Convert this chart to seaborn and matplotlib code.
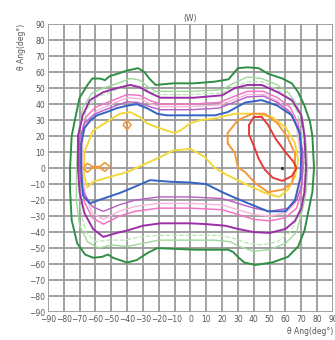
import numpy as np
import pandas as pd
import matplotlib
matplotlib.use("Agg")
import matplotlib.pyplot as plt
import seaborn as sns

# contour outlines (theta, phi) in degrees
green_dark = [(-76, 0), (-75, 20), (-73, 30), (-70, 44), (-65, 52), (-62, 56), (-57, 56), (-54, 55),
              (-51, 57.5), (-46, 59), (-40, 61), (-33, 62.5), (-29, 60), (-26, 56), (-22, 52), (-11, 53),
              (2, 53), (15, 54), (24, 55.5), (27, 59), (30, 62.5), (36, 63), (43, 62.5), (49, 59),
              (58, 56), (64, 53), (68, 47.5), (72, 39), (75.5, 29), (77, 20), (78, 0), (77, -15),
              (75.5, -22), (72, -39), (68, -49), (61.5, -55.5), (51.5, -59), (41, -60.5), (34, -59),
              (30, -55.5), (27, -52.5), (24, -51), (13.5, -51), (3, -51), (-8.5, -50.5), (-21, -50),
              (-27, -53), (-34, -57.5), (-40, -59), (-49, -56), (-52, -54), (-56, -55.5), (-61.5, -56),
              (-66.5, -54), (-71.5, -47), (-75, -32.5), (-76, -14), (-76, 0)]
green_light = [(-72, 0), (-71, 20), (-68, 38), (-62, 47), (-55, 50), (-46, 53), (-38, 56), (-32, 55),
               (-27, 51), (-22, 48), (0, 48), (20, 49), (27, 53), (36, 57), (45, 56), (55, 52),
               (62, 47), (67, 40), (71, 30), (73, 15), (74, 0), (73, -15), (71, -25), (67, -40),
               (60, -47), (50, -51), (40, -52), (31, -49), (25, -46), (15, -45), (0, -45), (-20, -45),
               (-30, -47), (-40, -49), (-50, -48), (-58, -50), (-65, -46), (-70, -36), (-72, -20), (-72, 0)]
green_dash = [(-70, 0), (-69, 20), (-66, 36), (-60, 44), (-52, 47), (-44, 50), (-37, 52), (-31, 51),
              (-26, 48), (-20, 46), (0, 46), (20, 47), (28, 51), (36, 54), (46, 54), (55, 49),
              (62, 44), (67, 36), (70, 25), (72, 10), (72, -5), (71, -18), (68, -30), (63, -40),
              (55, -46), (45, -48), (36, -47), (28, -44), (18, -42), (0, -42), (-20, -42),
              (-32, -43), (-42, -45), (-52, -45), (-60, -46), (-66, -40), (-69, -28), (-70, -12), (-70, 0)]
purple = [(-71, 0), (-71, 20), (-68, 33), (-63.5, 42.5), (-55, 47.5), (-46.5, 50), (-38, 52), (-32, 50.5),
          (-25.5, 47), (-19, 44), (2, 44), (20, 45.5), (28, 50), (36, 52), (45, 52), (55, 47.5),
          (64, 42.5), (70, 33), (72, 20), (73, 0), (72, -15), (70, -25), (66, -33), (60, -38),
          (50, -40.5), (40, -40), (30, -38), (22, -36), (10, -35), (0, -34.5), (-19, -34.5),
          (-30, -36), (-40, -39), (-46.5, -40.5), (-55, -43), (-61.5, -38), (-67, -28), (-70, -15), (-71, 0)]
pink = [(-69, 0), (-69, 20), (-66, 32), (-60, 38), (-50, 42), (-40, 46), (-32, 45.5), (-25, 42),
        (-18, 40), (0, 40), (18, 41), (28, 45), (36, 48), (46, 48), (55, 44), (63, 38), (68, 28),
        (70, 15), (71, 0), (70, -15), (67, -25), (60, -31), (50, -33), (40, -32), (30, -29),
        (20, -26), (0, -25), (-20, -25), (-35, -27), (-45, -30), (-55, -35), (-62, -31), (-67, -21),
        (-69, -5), (-69, 0)]
pink_light = [(-68, 0), (-68, 20), (-65, 30), (-59, 36), (-50, 40), (-40, 44), (-32, 43.5), (-25, 40),
              (-18, 38.5), (0, 38.5), (18, 39.5), (28, 43), (36, 46), (46, 46), (55, 42), (62, 36),
              (67, 26), (69, 12), (70, 0), (69, -12), (66, -22), (60, -28), (50, -30), (40, -29),
              (30, -26), (20, -23), (0, -22), (-20, -22), (-35, -24), (-45, -27), (-55, -32),
              (-62, -28), (-66, -18), (-68, -5), (-68, 0)]
violet = [(-70, 0), (-70, 18), (-67, 28), (-60, 34), (-50, 38), (-40, 41.5), (-33, 41), (-26, 38.5),
          (-19, 36.5), (0, 36.5), (18, 37.5), (27, 41), (36, 44.5), (46, 45), (55, 41), (63, 35),
          (68, 25), (71, 10), (71, 0), (70, -12), (67, -20), (62, -25), (50, -27), (40, -25),
          (30, -22), (20, -19), (0, -18), (-20, -18), (-35, -20), (-45, -23), (-55, -27),
          (-62, -24), (-67, -16), (-70, -5), (-70, 0)]
blue = [(-69, 0), (-69, 15), (-67, 25), (-63, 30), (-59, 33), (-53, 35), (-46.5, 37.5), (-40, 39),
        (-34, 40), (-27.5, 37.5), (-21, 34), (-15, 33), (2, 33), (15.5, 33), (23.5, 35), (34.5, 41),
        (45, 42.5), (55, 39), (64, 33), (69, 22), (70, 10), (69.5, -5.5), (66, -20), (60, -27),
        (49, -27), (39, -23), (28, -18.5), (20, -15), (10, -10), (0, -9), (-13, -8.5), (-25.5, -7.5),
        (-36, -12), (-44.5, -15.5), (-55, -19), (-63.5, -22), (-68, -17), (-69, 0)]
yellow = [(-67, -5), (-67, 10), (-61.5, 23.5), (-51, 30), (-44.5, 34), (-38, 35), (-32, 32), (-27.5, 28),
          (-21, 25.5), (-15, 23.5), (-10, 22), (-6.5, 23.5), (0, 28), (6, 30), (15, 31), (28, 34),
          (41, 34), (51.5, 32), (60, 25.5), (66, 15.5), (68, 5), (66, -5.5), (61.5, -13.5), (56, -18),
          (47, -15.5), (36, -10.5), (23.5, -4.5), (15.5, 0), (9, 7), (0, 12), (-11, 11), (-19, 7),
          (-30, 2), (-40, -2.5), (-51, -5.5), (-61.5, -8.5), (-65, -12), (-67, -5)]
orange = [(23.5, 15.5), (23.5, 22), (30, 30), (39, 34), (47, 34), (55, 28), (61.5, 19), (66, 9),
          (66, -1), (64, -9.5), (58, -13.5), (49, -15), (41, -9.5), (34.5, -2.5), (30, 0.5),
          (28, 9.5), (23.5, 15.5)]
orange_a = [(-40, 30), (-37.5, 27), (-40, 24), (-42.5, 27), (-40, 30)]
orange_b = [(-68, 0), (-65, 3), (-62, 1), (-57, 1), (-54, 3.5), (-51, 1), (-54, -2), (-57, 0),
            (-62, 0), (-65, -2.5), (-68, 0)]
red = [(37, 27), (40, 32), (45, 32), (49, 27), (54, 18), (60, 10), (65, 4), (67, 0), (64, -5),
       (58, -8), (52, -6), (47, -1), (43, 6), (40, 14), (37, 21), (37, 27)]
peak = [(58, 0)]

ticks = list(range(-90, 100, 10))

contours = [
    (green_dark, "#2f8f45", 1.4, "-"),
    (green_dash, "#b8e6b0", 0.9, "--"),
    (green_light, "#9fd89a", 1.0, "-"),
    (purple, "#9a2fa8", 1.4, "-"),
    (pink, "#f075c4", 1.1, "-"),
    (pink_light, "#f8b4dc", 1.0, "-"),
    (violet, "#b85cc8", 1.0, "-"),
    (blue, "#3562c4", 1.4, "-"),
    (yellow, "#f4d83a", 1.4, "-"),
    (orange, "#f5983c", 1.4, "-"),
    (orange_a, "#f5983c", 1.2, "-"),
    (orange_b, "#f5983c", 1.2, "-"),
    (red, "#e53a3c", 1.4, "-"),
]

sns.set_theme(style="white")
plt.rcParams['font.family'] = ['DejaVu Sans']

fig = plt.figure(figsize=(3.35, 3.4), dpi=100)
ax = fig.add_axes([0.143, 0.082, 0.851, 0.847])

for pts, col, lw, ls in contours:
    df = pd.DataFrame(pts, columns=["theta", "phi"])
    sns.lineplot(data=df, x="theta", y="phi", sort=False, estimator=None,
                 color=col, linewidth=lw, linestyle=ls, ax=ax)

pk = pd.DataFrame(peak, columns=["theta", "phi"])
sns.scatterplot(data=pk, x="theta", y="phi", color="#333333", s=6, linewidth=0, ax=ax, zorder=5)

ax.set_xlim(-90, 90)
ax.set_ylim(-90, 90)
ax.set_xticks(ticks)
ax.set_yticks(ticks)
ax.grid(True, color="#999999", linewidth=1.3)
ax.set_axisbelow(True)
for s in ax.spines.values():
    s.set_visible(False)
ax.tick_params(axis="both", labelsize=5.5, labelcolor="#555555", length=0, pad=2)

ax.set_title("(W)", fontsize=5.5, color="#555555", pad=2)
ax.set_xlabel("θ Ang(deg°)", fontsize=5.5, color="#555555", loc="right", labelpad=2)
ax.set_ylabel("θ Ang(deg°)", fontsize=5.5, color="#555555", loc="top", labelpad=2)

plt.savefig("out.png", dpi=100)
